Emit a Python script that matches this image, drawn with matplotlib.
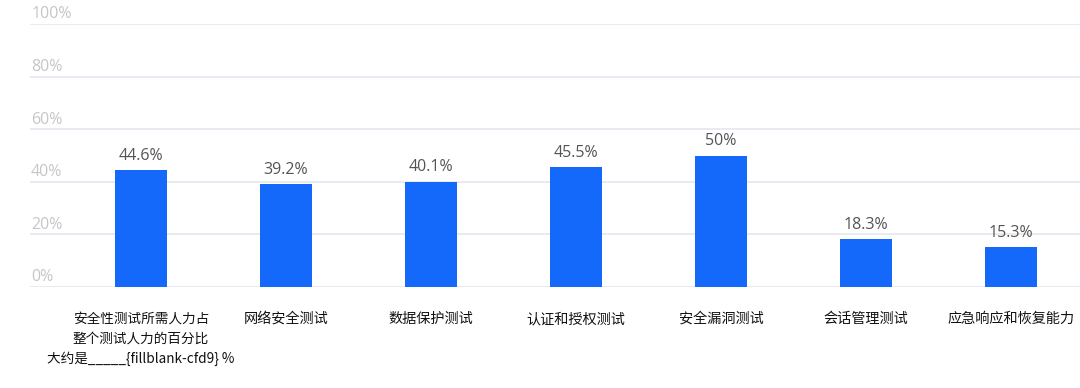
import matplotlib
matplotlib.use("Agg")
import matplotlib.pyplot as plt

plt.rcParams['font.family'] = ['Noto Sans CJK SC', 'DejaVu Sans']

categories = [
    "安全性测试所需人力占\n整个测试人力的百分比\n大约是_____{fillblank-cfd9} %",
    "网络安全测试",
    "数据保护测试",
    "认证和授权测试",
    "安全漏洞测试",
    "会话管理测试",
    "应急响应和恢复能力",
]
values = [44.6, 39.2, 40.1, 45.5, 50, 18.3, 15.3]
value_labels = ["44.6%", "39.2%", "40.1%", "45.5%", "50%", "18.3%", "15.3%"]
yticks = [0, 20, 40, 60, 80, 100]

fig = plt.figure(figsize=(10.8, 3.88), dpi=100)
ax = fig.add_axes([30 / 1080, 1 - 287 / 388, 1 - 30 / 1080, (287 - 24) / 388])

x = list(range(len(categories)))
bars = ax.bar(x, values, width=0.36, color="#1469fb", zorder=3)

ax.set_xlim(-0.766, 6.476)
ax.set_ylim(0, 100)

# horizontal grid lines with labels sitting above them
for t in yticks:
    ax.axhline(t, color="#e4e7ef", lw=1.2, zorder=1)
    ax.text(0.001, t + 0.6, f"{t}%", transform=ax.get_yaxis_transform(),
            ha="left", va="bottom", fontsize=11.5, color="#c6c6c6",
            family=["Open Sans", "DejaVu Sans"])

for xi, v, lab in zip(x, values, value_labels):
    ax.text(xi, v + 2.3, lab, ha="center", va="bottom", fontsize=11.5,
            color="#555555", family=["Open Sans", "DejaVu Sans"])

ax.set_xticks(x)
ax.set_xticklabels(categories, fontsize=10.2, color="#111111", linespacing=1.5, va="top")
ax.get_xticklabels()[0].set_fontsize(9.8)
ax.tick_params(axis="x", length=0, pad=18)
ax.set_yticks([])
for s in ax.spines.values():
    s.set_visible(False)

fig.savefig("out.png", dpi=100)
